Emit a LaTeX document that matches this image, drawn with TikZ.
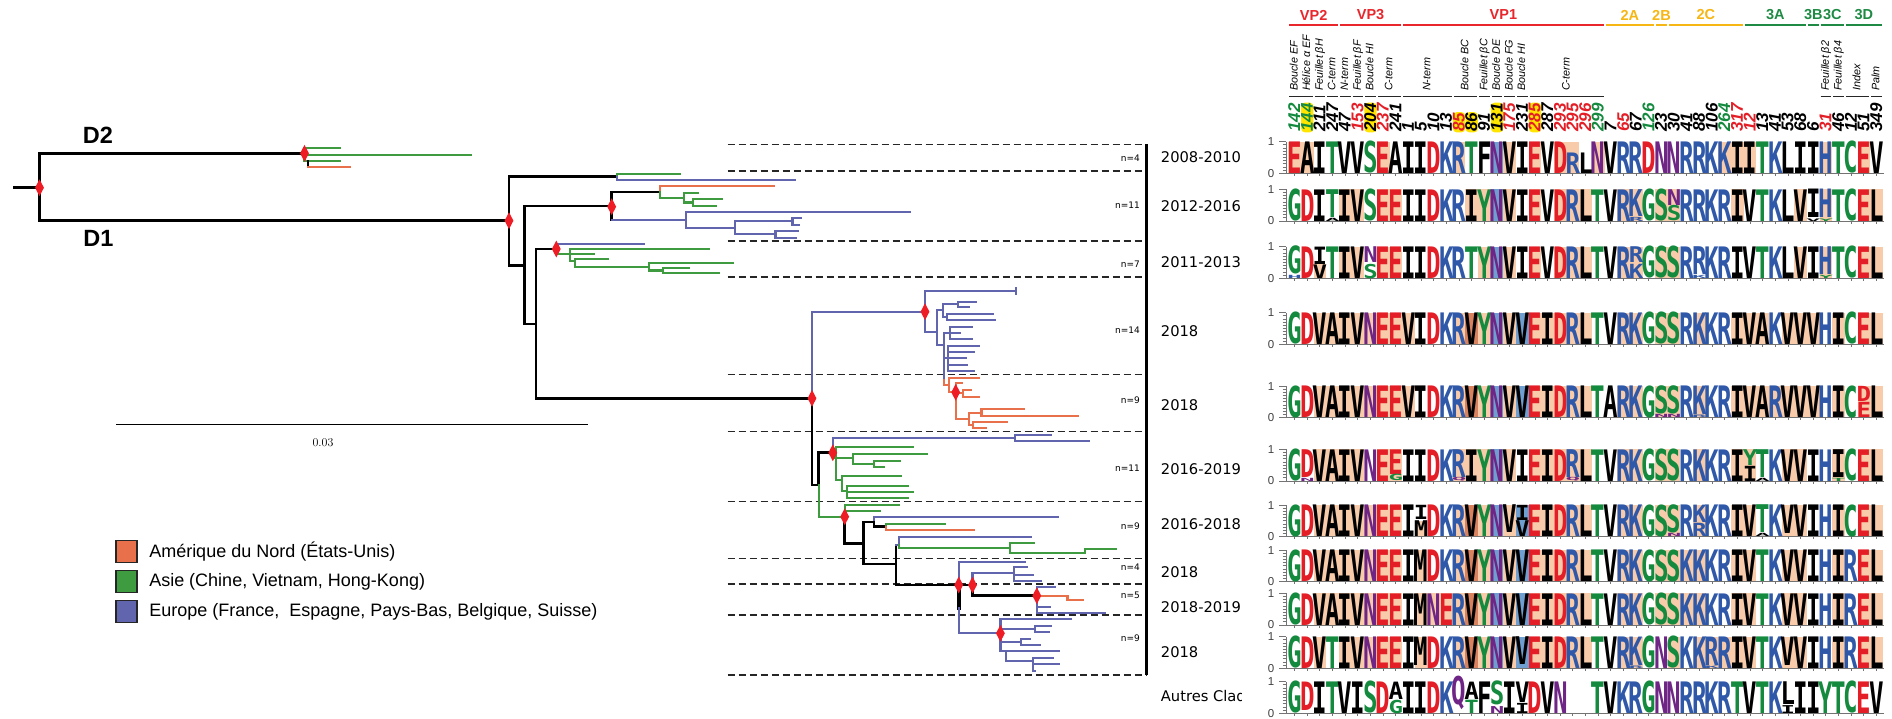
\documentclass[tikz,border=0pt]{standalone}
\usepackage{fontspec}
\usepackage{graphicx}
\usetikzlibrary{positioning,shapes.geometric}
\newfontfamily\arialf{Liberation Sans}
\newfontfamily\verdf{DejaVu Sans}
\newfontfamily\lgfont{DejaVu Sans Mono}
\definecolor{nAm}{HTML}{E8704A}
\definecolor{asia}{HTML}{3F9B3F}
\definecolor{euro}{HTML}{6065AE}
\definecolor{nodeRed}{HTML}{EE1C25}
\definecolor{lgGreen}{HTML}{138A3E}
\definecolor{lgRed}{HTML}{E41E26}
\definecolor{lgBlue}{HTML}{2F58A8}
\definecolor{lgPurple}{HTML}{6E2585}
\definecolor{lgPeach}{HTML}{F8CBAA}
\definecolor{lgDark}{HTML}{D98260}
\definecolor{lgSky}{HTML}{6E9FD0}
\definecolor{vpRed}{HTML}{E8262C}
\definecolor{twoYel}{HTML}{F6B614}
\definecolor{threeGrn}{HTML}{1E8A44}
\definecolor{hiYel}{HTML}{FFE500}
\tikzset{
  blk/.style={draw=black, line width=2.8pt, line cap=rect},
  ora/.style={draw=nAm, line width=2.2pt, line cap=rect},
  grn/.style={draw=asia, line width=2.2pt, line cap=rect},
  blu/.style={draw=euro, line width=2.2pt, line cap=rect},
  bsupp/.style={diamond, fill=nodeRed, inner sep=0pt, minimum width=9pt, minimum height=17pt},
  clsep/.style={draw=black!85, line width=1.6pt, dash pattern=on 7pt off 4pt},
  nlab/.style={anchor=east, inner sep=0pt, font=\verdf\fontsize{9}{10}\selectfont},
  perlab/.style={anchor=west, inner sep=0pt, font=\verdf\fontsize{14.7}{16}\selectfont},
  dlab/.style={inner sep=0pt, font=\arialf\bfseries\fontsize{23.5}{26}\selectfont},
  legbox/.style={draw=black!85, line width=1.3pt, minimum width=21pt, minimum height=22pt, inner sep=0pt},
  legtxt/.style={inner sep=0pt, font=\arialf\fontsize{18}{21}\selectfont},
  grp/.style={inner sep=0pt, font=\arialf\bfseries\fontsize{14.5}{16}\selectfont},
  grpline/.style={line width=2pt},
  domlab/.style={rotate=90, anchor=west, inner sep=0pt, text height=8pt, text depth=2.2pt,
    font=\arialf\itshape\fontsize{10.8}{12}\selectfont},
  domline/.style={draw=black!85, line width=1.5pt},
  poslab/.style={rotate=90, anchor=west, inner sep=0.6pt, text height=11pt, text depth=0pt,
    rounded corners=3.5pt, font=\arialf\bfseries\itshape\fontsize{17}{18}\selectfont},
  axln/.style={draw=black!55, line width=0.9pt},
  axlbl/.style={inner sep=0pt, text=black!75, font=\arialf\fontsize{11.5}{13}\selectfont},
  lgch/.style={anchor=south, inner sep=0pt, outer sep=0pt, font=\lgfont\bfseries},
  aaG/.style={text=lgGreen}, aaS/.style={text=lgGreen}, aaT/.style={text=lgGreen},
  aaY/.style={text=lgGreen}, aaC/.style={text=lgGreen},
  aaN/.style={text=lgPurple}, aaQ/.style={text=lgPurple},
  aaK/.style={text=lgBlue}, aaR/.style={text=lgBlue}, aaH/.style={text=lgBlue},
  aaD/.style={text=lgRed}, aaE/.style={text=lgRed},
  aaA/.style={text=black}, aaV/.style={text=black}, aaL/.style={text=black},
  aaI/.style={text=black}, aaM/.style={text=black}, aaF/.style={text=black}
}
% one logo letter: column, from, to (fraction of the row height), letter
\newcommand{\lgl}[4]{\if o#4\else
  \pgfmathsetmacro\lgx{1288.3+12.65*(#1-0.5)}%
  \pgfmathsetmacro\lgy{\lgbot-31.6*#2}%
  \pgfmathsetmacro\lgh{31.6*(#3-#2)}%
  \edef\lgdo{\noexpand\node[lgch,aa#4] (lg\lgr-#1) at (\lgx,\lgy)
    {\noexpand\makebox[12.2pt]{\noexpand\resizebox{14.5pt}{\lgh pt}{#4}}};}%
  \lgdo\fi}
\newcommand{\lgbg}[2]{\fill[#2] ({1288.3+12.65*(#1-1)},{\lgbot-31.6}) rectangle ({1288.3+12.65*#1},\lgbot);}
\newcommand{\lgbgp}[4]{\fill[#2] ({1288.3+12.65*(#1-1)},{\lgbot-31.6*#4}) rectangle ({1288.3+12.65*#1},{\lgbot-31.6*#3});}
\newcommand{\lgletters}[1]{\foreach \ch [count=\c] in {#1} {\lgl{\c}{0}{1}{\ch}}}
\newcommand{\lgaxis}{%
  \draw[axln] (1286,{\lgbot-31.6}) -- (1286,\lgbot) -- (1884,\lgbot);
  \foreach \k in {1,...,9} {\draw[axln] (1282.5,{\lgbot-3.16*\k}) -- (1286,{\lgbot-3.16*\k});}
  \draw[axln] (1279,{\lgbot-31.6}) -- (1286,{\lgbot-31.6}) (1279,\lgbot) -- (1286,\lgbot);
  \node[axlbl] (ax\lgr a) at (1271,{\lgbot-31.6}) {1};
  \node[axlbl] (ax\lgr b) at (1271,\lgbot) {0};
  \foreach \k in {1,...,47} {\draw[axln] ({1288.3+12.65*(\k-0.5)},\lgbot) -- ++(0,2.5);}}

\begin{document}
\begin{tikzpicture}[x=1pt, y=-1pt]
  \path[use as bounding box] (0,0) rectangle (1892,718);

  % clade separators
  \foreach \y in {144.3,171,241,277,374.5,431.6,501.5,558.3,584,615,675}
    \draw[clsep] (727.6,\y) -- (1146.7,\y);
  \draw[line width=2.6pt] (1146.7,144.3) -- (1146.7,675);

  % root, D2, D1
  \draw[blk] (14,187.7) -- (39.5,187.7);
  \draw[blk] (304.5,153.3) -- (39.5,153.3) -- (39.5,220.7) -- (509,220.7);
  \draw[grn] (340,148.3) -- (304.5,148.3) -- (304.5,161) -- (340,161);
  \draw[grn] (304.5,154.7) -- (470.5,154.7);
  \draw[line width=2pt] (307.6,160) -- (307.6,167.3);
  \draw[ora] (308,167.3) -- (350,167.3);

  % 2008-2010 / 2012-2016
  \draw[blk] (617,176.7) -- (509,176.7) -- (509,265.7) -- (524.7,265.7);
  \draw[grn] (617,176.7) -- (617,174) -- (679.7,174);
  \draw[blu] (617,176.7) -- (617,180) -- (795,180);
  \draw[blk] (611.7,206) -- (524.7,206) -- (524.7,324) -- (536,324);
  \draw[blk] (660,192) -- (611.7,192) -- (611.7,220);
  \draw[ora] (660,192) -- (660,186) -- (773.4,186);
  \draw[grn] (660,192) -- (660,198.3) -- (683.6,198.3);
  \draw[grn] (698.3,192.7) -- (683.6,192.7) -- (683.6,202.5) -- (692.7,202.5);
  \draw[grn] (722,199.3) -- (692.7,199.3) -- (692.7,205.7) -- (715.7,205.7);
  \draw[blu] (611.7,220) -- (685.6,220);
  \draw[blu] (909.8,212) -- (685.6,212) -- (685.6,228.3) -- (735,228.3);
  \draw[blu] (792.4,221.3) -- (735,221.3) -- (735,234.3) -- (775.4,234.3);
  \draw[blu] (801,218.3) -- (792.4,218.3) -- (792.4,224.7) -- (798.7,224.7);
  \draw[blu] (798,231) -- (775.4,231) -- (775.4,237.7) -- (796,237.7);

  % 2011-2013
  \draw[blk] (556.3,249) -- (536,249) -- (536,398.3) -- (812,398.3);
  \draw[blu] (556.3,249) -- (556.3,244) -- (644,244);
  \draw[grn] (556.3,249) -- (556.3,253.7) -- (570,253.7);
  \draw[grn] (708.5,248.6) -- (570,248.6) -- (570,261.3) -- (575,261.3);
  \draw[grn] (570,253.7) -- (593.5,253.7);
  \draw[grn] (607.7,258.7) -- (575,258.7) -- (575,267) -- (649,267);
  \draw[grn] (733,263.2) -- (649,263.2) -- (649,270.5) -- (662.7,270.5);
  \draw[grn] (688.4,268.1) -- (662.7,268.1) -- (662.7,273.1) -- (719,273.1);

  % 2018 (n=14) and 2018 (n=9)
  \draw[blu] (925,311.7) -- (812,311.7) -- (812,398.3);
  \draw[blk] (812,398.3) -- (812,485) -- (818.6,485);
  \draw[blu] (1015.8,291.3) -- (925,291.3) -- (925,331.7) -- (936.7,331.7);
  \draw[blu, line width=1.5pt] (1015.8,288) -- (1015.8,294.5);
  \draw[blu] (943,310) -- (936.7,310) -- (936.7,345) -- (944,345);
  \draw[blu] (958,304) -- (943,304) -- (943,317) -- (947,317);
  \draw[blu] (975.4,301.7) -- (958,301.7) -- (958,306.7) -- (969,306.7);
  \draw[blu] (993,314) -- (947,314) -- (947,320) -- (995,320);
  \draw[blu] (950,333) -- (944,333) -- (944,380);
  \draw[blu] (971.5,326.7) -- (950,326.7) -- (950,339.3) -- (971.5,339.3);
  \draw[blu] (950,333.3) -- (959.6,333.3);
  \draw[blu] (944,358) -- (948,358);
  \draw[blu] (979,346) -- (948,346) -- (948,370.7) -- (973.5,370.7);
  \draw[blu] (948,352.3) -- (973.5,352.3) (948,358.3) -- (965.6,358.3) (948,365) -- (967,365);
  \draw[ora] (944,380) -- (944,385) -- (949,385);
  \draw[ora] (979,377.7) -- (949,377.7) -- (949,392.3) -- (955.7,392.3);
  \draw[ora] (961.6,383.3) -- (955.7,383.3) -- (955.7,418.8) -- (969,418.8);
  \draw[ora] (955.7,393.3) -- (963,393.3);
  \draw[ora] (970.5,390) -- (963,390) -- (963,396.7) -- (979,396.7);
  \draw[ora] (981.4,412.7) -- (969,412.7) -- (969,425) -- (973,425);
  \draw[ora] (1023.7,409.3) -- (981.4,409.3) -- (981.4,416) -- (1077.9,416);
  \draw[ora] (1006.7,421.7) -- (973,421.7) -- (973,428.3) -- (986,428.3);

  % 2016-2019
  \draw[blk] (832.8,452.7) -- (818.6,452.7) -- (818.6,485);
  \draw[grn] (818.6,485) -- (818.6,516.7) -- (844.7,516.7);
  \draw[blu] (832.8,452.7) -- (832.8,437.7) -- (1014.6,437.7);
  \draw[blu] (1050.5,434.7) -- (1014.6,434.7) -- (1014.6,441.3) -- (1089,441.3);
  \draw[grn] (832.8,452.7) -- (832.8,458) -- (853,458);
  \draw[grn] (912.6,447.3) -- (836,447.3) -- (836,480) -- (841.6,480);
  \draw[grn] (927,454) -- (853,454) -- (853,463.7) -- (874,463.7);
  \draw[grn] (899.7,460.7) -- (874,460.7) -- (874,466.7) -- (884,466.7);
  \draw[grn] (901,476) -- (841.6,476) -- (841.6,491) -- (847,491);
  \draw[grn] (907.8,485.7) -- (847,485.7) -- (847,498.3) -- (907.8,498.3);
  \draw[grn] (847,491.7) -- (913,491.7);

  % 2016-2018
  \draw[grn] (899,505.3) -- (844.7,505.3) -- (844.7,516.7);
  \draw[grn] (844.7,511) -- (879.5,511);
  \draw[blk] (844.7,516.7) -- (844.7,543.3) -- (863.4,543.3);
  \draw[blk] (874,522) -- (863.4,522) -- (863.4,564) -- (896,564);
  \draw[blu] (874,522) -- (874,517.3) -- (1057.8,517.3);
  \draw[blk] (874,522) -- (874,526.7) -- (885.6,526.7);
  \draw[grn] (885.6,526.7) -- (885.6,524) -- (945,524);
  \draw[ora] (885.6,526.7) -- (885.6,530) -- (974,530);
  \draw[blk] (896,545) -- (896,585) -- (972.5,585);
  \draw[blu] (1030.6,536.7) -- (899,536.7) -- (899,545) -- (896,545);
  \draw[grn] (899,545) -- (899,547.7) -- (1010,547.7);
  \draw[grn] (1034,543.3) -- (1010,543.3) -- (1010,552.7) -- (1085,552.7) -- (1085,549.3) -- (1116,549.3);

  % 2018 (n=4), 2018-2019, 2018 (n=9)
  \draw[blu] (958.7,585) -- (958.7,561.7) -- (1024.5,561.7);
  \draw[blk, line width=4pt] (958.7,585) -- (958.7,608.3);
  \draw[blu] (958.7,608.3) -- (958.7,633.3) -- (1000.4,633.3);
  \draw[blu] (972.5,585) -- (972.5,572.7) -- (1013.8,572.7);
  \draw[blu] (1027,567.3) -- (1013.8,567.3) -- (1013.8,581) -- (1040.6,581);
  \draw[blu] (1013.8,575) -- (1033,575);
  \draw[blk] (972.5,585) -- (972.5,595.7) -- (1036.8,595.7);
  \draw[blu] (1055,587.3) -- (1036.8,587.3) -- (1036.8,612.7) -- (1104.5,612.7);
  \draw[blu] (1036.8,606.7) -- (1050,606.7);
  \draw[ora] (1036.8,595.7) -- (1067.4,595.7) -- (1067.4,600) -- (1083,600);
  \draw[blu] (1071,619) -- (1000.4,619) -- (1000.4,651) -- (1006.2,651);
  \draw[blu] (1000.4,629) -- (1035.2,629);
  \draw[blu] (1051,625.7) -- (1035.2,625.7) -- (1035.2,632.3) -- (1049,632.3);
  \draw[blu] (1000.4,642) -- (1020.7,642);
  \draw[blu] (1030,639) -- (1020.7,639) -- (1020.7,645) -- (1039.8,645);
  \draw[blu] (1058.6,651) -- (1006.2,651) -- (1006.2,661) -- (1033,661);
  \draw[blu] (1052.8,657.7) -- (1033,657.7) -- (1033,670.7) -- (1035,670.7);
  \draw[blu] (1033,664) -- (1058.6,664);

  % supported nodes
  \foreach \x/\y/\n in {39.5/187.7/r0, 304.5/153.3/dd2, 509/220.7/dd1, 611.7/206.7/s1,
      556.3/249/s2, 812/398.3/s3, 925/311.7/s4, 955.7/392.3/s5, 832.8/452.7/s6,
      844.7/516.7/s7, 958.7/585/s8, 972.5/585/s9, 1036.8/595.7/s10, 1000.4/633.3/s11}
    \node[bsupp] (\n) at (\x,\y) {};

  \node[dlab] (lD2) at (98,135.5) {D2};
  \node[dlab] (lD1) at (98.5,238.3) {D1};

  % scale
  \coordinate (sc0) at (116,424.7);
  \coordinate (sc1) at (588,424.7);
  \draw[line width=1.2pt] (sc0) -- (sc1);
  \node[font=\fontsize{12}{14}\selectfont] (scl) at (323,443) {0.03};

  % legend
  \node[legbox, fill=nAm] (kNA) at (126.4,551.2) {};
  \node[legbox, fill=asia] (kAS) at (126.4,581.8) {};
  \node[legbox, fill=euro] (kEU) at (126.4,611.8) {};
  \node[legtxt, right=11.5pt of kNA] (tNA) {Amérique du Nord (États-Unis)};
  \node[legtxt, right=11.5pt of kAS] (tAS) {Asie (Chine, Vietnam, Hong-Kong)};
  \node[legtxt, right=11.5pt of kEU] (tEU) {Europe (France,~ Espagne, Pays-Bas, Belgique, Suisse)};

  % clade sizes and periods
  \foreach \y/\t [count=\k] in {158.3/4, 205/11, 264/7, 330/14, 400/9, 468/11, 526/9, 567/4, 595/5, 638/9}
    \node[nlab] (nn\k) at (1140,\y) {n=\t};
  \foreach \y/\t [count=\k] in {156.7/2008-2010, 205.7/2012-2016, 261.7/2011-2013, 331/2018, 405/2018,
      469/2016-2019, 524/2016-2018, 571.7/2018, 607/2018-2019, 652.3/2018}
    \node[perlab] (per\k) at (1160.7,\y) {\t};
  \begin{scope}
    \clip (1155,680) rectangle (1241.5,712);
    \node[perlab] (per11) at (1160.7,696) {Autres Clades};
  \end{scope}

  % protein header
  \foreach \a/\b/\t/\cl [count=\k] in {1/4/VP2/vpRed, 5/9/VP3/vpRed, 10/25/VP1/vpRed, 26/29/2A/twoYel,
      30/30/2B/twoYel, 31/36/2C/twoYel, 37/41/3A/threeGrn, 42/42/3B/threeGrn, 43/44/3C/threeGrn, 45/47/3D/threeGrn} {
    \draw[grpline, draw=\cl] ({1288.3+12.65*(\a-1)+1},24.7) -- ({1288.3+12.65*\b-1},24.7);
    \node[grp, text=\cl] (hd\k) at ({1288.3+12.65*(\a+\b-1)/2},15) {\t};
  }
  \foreach \a/\b in {1/2,3/3,4/4,5/5,6/6,7/7,8/9,10/13,14/15,16/16,17/17,18/18,19/19,20/25,43/43,44/44,45/46,47/47}
    \draw[domline] ({1288.3+12.65*(\a-1)+1},96.7) -- ({1288.3+12.65*\b-1},96.7);
  \foreach \c/\t [count=\k] in {1/Boucle EF, 2/Hélice α EF, 3/Feuillet βH, 4/C-term, 5/N-term, 6/Feuillet βF,
      7/Boucle HI, 8.5/C-term, 11.5/N-term, 14.5/Boucle BC, 16/Feuillet βC, 17/Boucle DE, 18/Boucle FG,
      19/Boucle HI, 22.5/C-term, 43/Feuillet β2, 44/Feuillet β4, 45.5/Index, 47/Palm}
    \node[domlab] (dom\k) at ({1288.3+12.65*(\c-0.5)},91) {\t};
  \foreach \t/\cl/\hc [count=\k] in {142/lgGreen/none, 144/lgGreen/hiYel, 211/black/none, 247/black/none,
      47/black/none, 153/lgRed/none, 204/black/hiYel, 237/lgRed/none, 241/black/none, 1/black/none,
      5/black/none, 10/black/none, 13/black/none, 85/lgRed/hiYel, 86/black/hiYel, 91/black/none,
      131/black/hiYel, 175/lgRed/none, 231/black/none, 285/lgRed/hiYel, 287/black/none, 293/lgRed/none,
      295/lgRed/none, 296/lgRed/none, 299/lgGreen/none, 7/black/none, 65/lgRed/none, 67/black/none,
      126/lgGreen/none, 23/black/none, 30/black/none, 41/black/none, 88/black/none, 106/black/none,
      264/lgGreen/none, 317/lgRed/none, 12/lgRed/none, 13/black/none, 41/black/none, 53/black/none,
      68/black/none, 6/black/none, 31/lgRed/none, 46/black/none, 12/black/none, 51/black/none, 349/black/none}
    \node[poslab, text=\cl, fill=\hc] (ps\k) at ({1288.3+12.65*(\k-0.5)},132.5) {\t};

  % logos
  \def\lgr{1}\def\lgbot{173.3}
  \foreach \c in {1,2,8,14,18,20,22,23,25,35,36,37,43,46} {\lgbg{\c}{lgPeach}}
  \lgbg{17}{lgSky}
  \lgaxis
  \lgletters{E,A,I,T,V,V,S,E,A,I,I,D,K,R,T,F,N,V,I,E,V,D,o,o,N,V,R,R,D,N,N,R,R,K,K,I,I,T,K,L,I,I,H,T,C,E,V}
  \lgl{23}{0}{0.65}{R}\lgl{24}{0}{0.65}{L}

  \def\lgr{2}\def\lgbot{221}
  \foreach \c in {5,6,8,9,15,16,18,20,22,23,24,27,28,30,31,36,41,43,46,47} {\lgbg{\c}{lgPeach}}
  \lgbg{17}{lgSky}
  \lgaxis
  \lgletters{G,D,I,o,I,V,S,E,E,I,I,D,K,R,I,Y,N,V,I,E,V,D,R,L,T,V,R,o,G,S,o,R,R,K,R,I,V,T,K,L,V,o,o,T,C,E,L}
  \lgl{4}{0.12}{1}{T}\lgl{4}{0}{0.1}{A}\lgl{28}{0.15}{1}{K}\lgl{28}{0}{0.13}{R}
  \lgl{31}{0.5}{1}{N}\lgl{31}{0}{0.48}{S}\lgl{42}{0.1}{1}{I}\lgl{42}{0}{0.08}{V}
  \lgl{43}{0.1}{1}{H}\lgl{43}{0}{0.08}{Y}

  \def\lgr{3}\def\lgbot{278.3}
  \foreach \c in {5,6,8,9,16,18,20,22,23,24,27,28,30,31,41,43,46,47} {\lgbg{\c}{lgPeach}}
  \lgbgp{3}{lgPeach}{0}{0.45}
  \lgbg{17}{lgSky}
  \lgaxis
  \lgletters{o,D,o,T,I,V,o,E,E,I,I,D,K,R,T,Y,N,V,I,E,V,D,R,L,T,V,R,o,G,S,S,R,o,K,R,I,V,T,K,L,V,I,o,T,C,E,L}
  \lgl{1}{0.12}{1}{G}\lgl{1}{0}{0.1}{H}\lgl{3}{0.45}{1}{I}\lgl{3}{0}{0.43}{V}
  \lgl{7}{0.5}{1}{N}\lgl{7}{0}{0.45}{S}\lgl{28}{0.5}{1}{R}\lgl{28}{0}{0.45}{K}
  \lgl{33}{0.12}{1}{R}\lgl{33}{0}{0.1}{K}\lgl{43}{0.12}{1}{H}\lgl{43}{0}{0.1}{Y}

  \def\lgr{4}\def\lgbot{344.3}
  \foreach \c in {3,4,5,6,7,8,9,10,14,16,18,20,21,22,23,24,27,28,30,31,33,36,37,38,40,41,42,44,46,47} {\lgbg{\c}{lgPeach}}
  \lgbg{15}{lgDark}\lgbg{17}{lgSky}\lgbg{19}{lgSky}
  \lgaxis
  \lgletters{G,D,V,A,I,V,N,E,E,V,I,D,K,R,V,Y,N,V,V,E,I,D,R,L,T,V,R,K,G,S,S,R,K,K,R,I,V,A,K,V,V,V,H,I,C,E,L}

  \def\lgr{5}\def\lgbot{417.7}
  \foreach \c in {3,4,5,6,7,8,9,10,14,16,18,20,21,22,23,24,27,28,30,31,33,36,37,38,39,40,41,42,44,46,47} {\lgbg{\c}{lgPeach}}
  \lgbg{15}{lgDark}\lgbg{17}{lgSky}\lgbg{19}{lgSky}
  \lgaxis
  \lgletters{G,D,V,A,I,V,N,E,E,V,I,D,K,R,V,Y,N,V,V,E,I,D,R,L,T,A,R,K,G,o,o,R,o,K,R,I,V,A,R,V,V,V,H,I,C,o,L}
  \lgl{30}{0.12}{1}{S}\lgl{30}{0}{0.1}{N}\lgl{31}{0.12}{1}{S}\lgl{31}{0}{0.1}{N}
  \lgl{33}{0.1}{1}{K}\lgl{33}{0}{0.08}{R}\lgl{46}{0.52}{1}{D}\lgl{46}{0}{0.48}{E}

  \def\lgr{6}\def\lgbot{481}
  \foreach \c in {3,4,5,6,8,9,14,15,16,18,20,21,22,23,24,27,28,30,31,33,36,37,40,41,44,46,47} {\lgbg{\c}{lgPeach}}
  \lgbg{17}{lgSky}
  \lgaxis
  \lgletters{G,o,V,A,I,V,N,E,o,I,I,D,K,o,I,Y,N,V,I,E,I,D,o,L,T,V,R,K,G,S,S,R,K,K,R,I,o,o,K,V,V,I,H,o,C,E,L}
  \lgl{2}{0.12}{1}{D}\lgl{2}{0}{0.1}{N}\lgl{9}{0.22}{1}{E}\lgl{9}{0}{0.2}{G}
  \lgl{14}{0.12}{1}{R}\lgl{14}{0}{0.1}{Q}\lgl{23}{0.12}{1}{R}\lgl{23}{0}{0.1}{Q}
  \lgl{37}{0.5}{1}{Y}\lgl{37}{0}{0.48}{I}\lgl{38}{0.12}{1}{T}\lgl{38}{0}{0.1}{A}
  \lgl{44}{0.12}{1}{I}\lgl{44}{0}{0.1}{T}

  \def\lgr{7}\def\lgbot{536.7}
  \foreach \c in {3,4,5,6,7,8,9,14,16,18,20,21,22,23,24,27,28,30,31,33,36,37,40,41,44,46,47} {\lgbg{\c}{lgPeach}}
  \lgbgp{11}{lgPeach}{0}{0.5}
  \lgbg{15}{lgDark}\lgbg{17}{lgSky}\lgbg{19}{lgSky}
  \lgaxis
  \lgletters{G,D,V,A,I,V,N,E,E,I,o,D,K,R,V,Y,N,o,o,E,I,D,R,L,T,V,R,K,G,S,o,R,o,K,R,I,V,o,K,o,V,I,H,I,C,E,L}
  \lgl{11}{0.55}{1}{I}\lgl{11}{0}{0.5}{M}\lgl{18}{0.12}{1}{V}\lgl{19}{0.52}{1}{I}\lgl{19}{0}{0.5}{V}
  \lgl{31}{0.12}{1}{S}\lgl{31}{0}{0.1}{N}\lgl{33}{0.45}{1}{K}\lgl{33}{0}{0.42}{R}
  \lgl{38}{0.12}{1}{T}\lgl{38}{0}{0.1}{A}\lgl{40}{0.1}{1}{V}

  \def\lgr{8}\def\lgbot{581.7}
  \foreach \c in {3,4,5,6,7,8,9,11,14,16,18,20,21,22,23,24,27,28,30,31,32,33,36,37,40,41,44,46,47} {\lgbg{\c}{lgPeach}}
  \lgbg{15}{lgDark}\lgbg{17}{lgSky}\lgbg{19}{lgSky}
  \lgaxis
  \lgletters{G,D,V,A,I,V,N,E,E,I,M,D,K,R,V,Y,N,V,V,E,I,D,R,L,T,V,R,K,G,S,S,K,K,K,R,I,V,T,K,V,V,I,H,I,R,E,L}

  \def\lgr{9}\def\lgbot{625}
  \foreach \c in {3,4,5,6,7,8,9,11,12,13,14,16,18,20,21,22,23,24,27,28,30,31,32,33,36,37,40,41,44,46,47} {\lgbg{\c}{lgPeach}}
  \lgbg{15}{lgDark}\lgbg{17}{lgSky}\lgbg{19}{lgSky}
  \lgaxis
  \lgletters{G,D,V,A,I,V,N,E,E,I,M,N,E,R,V,Y,N,V,V,E,I,D,R,L,T,V,R,K,G,S,S,K,K,K,R,I,V,T,K,V,V,I,H,I,R,E,L}

  \def\lgr{10}\def\lgbot{668.3}
  \foreach \c in {3,5,6,7,8,9,11,14,16,18,20,21,22,23,24,27,28,31,33,34,35,36,37,40,41,44,46,47} {\lgbg{\c}{lgPeach}}
  \lgbg{15}{lgDark}\lgbg{17}{lgSky}\lgbg{19}{lgSky}
  \lgaxis
  \lgletters{G,D,V,T,I,V,N,E,E,I,o,D,K,R,V,Y,N,V,o,E,I,D,R,L,T,V,R,o,G,N,S,K,K,o,R,I,V,T,K,o,V,I,H,I,R,E,L}
  \lgl{11}{0.1}{1}{M}\lgl{19}{0.12}{1}{V}\lgl{28}{0.1}{1}{K}\lgl{28}{0}{0.08}{R}
  \lgl{34}{0.1}{1}{R}\lgl{34}{0}{0.08}{K}\lgl{40}{0.1}{1}{V}

  \def\lgr{11}\def\lgbot{713.3}
  \lgaxis
  \lgletters{G,o,I,T,V,I,S,D,o,I,I,D,K,o,o,F,o,I,o,D,V,N,o,o,T,V,K,R,G,N,N,R,R,K,R,T,V,T,K,o,I,I,Y,T,C,E,V}
  \lgl{2}{0.1}{1}{D}\lgl{9}{0.45}{1}{A}\lgl{9}{0}{0.42}{G}\lgl{14}{0.1}{1}{Q}
  \lgl{15}{0.45}{1}{A}\lgl{15}{0}{0.42}{T}\lgl{17}{0.25}{1}{S}\lgl{17}{0}{0.22}{N}
  \lgl{19}{0.35}{1}{V}\lgl{19}{0}{0.32}{I}\lgl{40}{0.28}{1}{L}\lgl{40}{0}{0.25}{I}
\end{tikzpicture}
\end{document}
